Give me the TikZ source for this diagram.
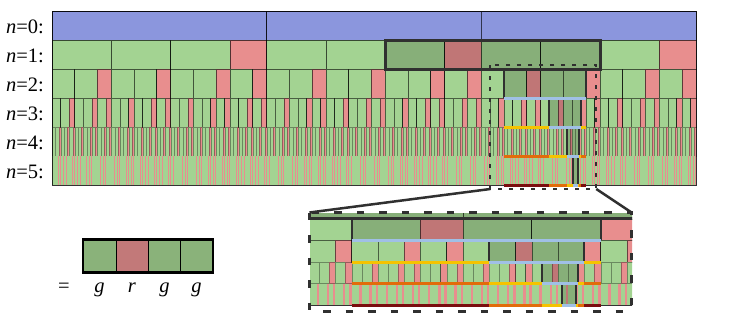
\documentclass[tikz,border=0pt]{standalone}
\usepackage{fontspec}
\setmainfont{Liberation Serif}
\definecolor{cblue}{RGB}{139,150,221}
\definecolor{cgreen}{RGB}{163,211,146}
\definecolor{cred}{RGB}{232,142,142}
\definecolor{cdg}{RGB}{138,178,122}
\definecolor{cdr}{RGB}{194,121,121}
\definecolor{clb}{RGB}{160,192,230}
\definecolor{cyl}{RGB}{245,195,0}
\definecolor{cor}{RGB}{226,108,10}
\definecolor{cdred}{RGB}{122,14,14}
\definecolor{cdk}{RGB}{48,48,48}
\tikzset{
  lab/.style={font=\fontsize{20.5}{20.5}\selectfont, inner sep=0pt},
  boxedge/.style={draw=cdk, line width=2pt, line cap=butt},
  hl/.style={line width=3pt, line cap=butt},
  shade/.style={fill=black, fill opacity=0.17},
}
\newcommand\mkcell[4]{%
  \pgfmathsetmacro\cy{11+29*#4}%
  \ifcase#4 \def\blw{1.0}\def\bop{0.65}\or\def\blw{0.9}\def\bop{0.65}\or\def\blw{0.8}\def\bop{0.6}\or\def\blw{0.5}\def\bop{0.55}\or\def\blw{0.2}\def\bop{0.35}\else\def\blw{0}\def\bop{0}\fi
  \ifnum#4<5
    \path[fill=#1, draw=black, draw opacity=\bop, line width=\blw pt] (#2,\cy) rectangle ++(#3,29);%
  \else
    \path[fill=#1] (#2,\cy) rectangle ++(#3,29);%
  \fi}
\newcommand\cellG[3]{%
  \mkcell{cgreen}{#1}{#2}{#3}%
  \ifnum#3<5
    \begingroup
    \pgfmathsetmacro\wa{#2*0.381966}%
    \pgfmathsetmacro\wb{#2*0.236068}%
    \pgfmathsetmacro\xa{#1+\wa}%
    \pgfmathsetmacro\xb{#1+2*\wa}%
    \pgfmathtruncatemacro\nl{#3+1}%
    \edef\next{\noexpand\cellG{#1}{\wa}{\nl}\noexpand\cellG{\xa}{\wa}{\nl}\noexpand\cellR{\xb}{\wb}{\nl}}%
    \next
    \endgroup
  \fi}
\newcommand\cellR[3]{%
  \mkcell{cred}{#1}{#2}{#3}%
  \ifnum#3<5
    \begingroup
    \pgfmathsetmacro\wa{#2*0.618034}%
    \pgfmathsetmacro\wb{#2*0.381966}%
    \pgfmathsetmacro\xa{#1+\wa}%
    \pgfmathtruncatemacro\nl{#3+1}%
    \edef\next{\noexpand\cellG{#1}{\wa}{\nl}\noexpand\cellR{\xa}{\wb}{\nl}}%
    \next
    \endgroup
  \fi}
\newcommand\cellB[1]{%
  \mkcell{cblue}{#1}{214.6667}{0}%
  \begingroup
  \pgfmathsetmacro\xa{#1+59.3337}%
  \pgfmathsetmacro\xb{#1+118.6673}%
  \pgfmathsetmacro\xc{#1+178.0010}%
  \edef\next{\noexpand\cellG{#1}{59.3337}{1}\noexpand\cellG{\xa}{59.3337}{1}\noexpand\cellG{\xb}{59.3337}{1}\noexpand\cellR{\xc}{36.6698}{1}}%
  \next
  \endgroup}
\newcommand\drawall{%
  \cellB{52}\cellB{266.6667}\cellB{481.3333}%
  \path[shade] (385.334,40) rectangle (600,69);
  \path[shade] (503.997,69) rectangle (585.994,98);
  \path[shade] (549.323,98) rectangle (580.644,127);
  \path[shade] (566.637,127) rectangle (578.600,156);
  \path[shade] (573.250,156) rectangle (577.820,185);
  \draw[black, draw opacity=0.8, line width=0.8pt] (52,11) rectangle (696,185);
  \draw[boxedge] (503.997,69) -- (503.997,98) (585.994,69) -- (585.994,98);
  \draw[boxedge] (549.323,98) -- (549.323,127) (580.644,98) -- (580.644,127);
  \draw[boxedge] (566.637,127) -- (566.637,156) (578.600,127) -- (578.600,156);
  \draw[boxedge] (573.250,156) -- (573.250,185) (577.820,156) -- (577.820,185);
  \draw[draw=cdk, line width=3pt] (385.334,40) rectangle (600,69);
  \draw[hl, clb] (503.997,98) -- (585.994,98);
  \draw[hl, cyl] (503.997,127) -- (585.994,127);
  \draw[hl, clb] (549.323,127) -- (580.644,127);
  \draw[hl, cor] (503.997,156) -- (585.994,156);
  \draw[hl, cyl] (549.323,156) -- (580.644,156);
  \draw[hl, clb] (566.637,156) -- (578.600,156);
  \draw[hl, cdred] (503.997,185) -- (585.994,185);
  \draw[hl, cor] (549.323,185) -- (580.644,185);
  \draw[hl, cyl] (566.637,185) -- (578.600,185);
  \draw[hl, clb] (573.250,185) -- (577.820,185);
}
\begin{document}
\begin{tikzpicture}[x=1pt,y=-1pt]
\useasboundingbox[fill=white] (0,0) rectangle (747,332);
% main grid
\drawall
% row labels
\foreach \k in {0,...,5} {
  \node[lab, anchor=base east] (l\k) at (44,{33.3+29*\k}) {\textit{n}=\k:};
}
% dashed selection in main grid
\coordinate (dtl) at (490.3,65);
\coordinate (dbr) at (596.3,189);
\coordinate (dbl) at (490.3,189);
\draw[draw=cdk, line width=1.8pt, dash pattern=on 4pt off 7pt] (dtl) rectangle (dbr);
% inset
\begin{scope}
  \clip (310,213) rectangle (632,308);
  \fill[cgreen] (310,213) rectangle (632,217);
  \begin{scope}[shift={(-1179.04,167.77)}, xscale=3.037, yscale=0.742]
    \drawall
  \end{scope}
\end{scope}
\coordinate (itl) at (309.5,212.5);
\coordinate (itr) at (631.5,212.5);
\coordinate (ibr) at (631.5,311.5);
\draw[draw=cdk, line width=2.7pt, dash pattern=on 7.5pt off 15pt] (itl) rectangle (ibr);
\draw[draw=cdk, line width=2.5pt] (dbl) -- (itl);
\draw[draw=cdk, line width=2.5pt] (dbr) -- (itr);
% legend
\fill[cdg] (82.7,239.5) rectangle (116,272.5);
\fill[cdr] (116,239.5) rectangle (148.3,272.5);
\fill[cdg] (148.3,239.5) rectangle (180.5,272.5);
\fill[cdg] (180.5,239.5) rectangle (212.7,272.5);
\draw[black, line width=0.8pt] (116,239.5) -- (116,272.5) (148.3,239.5) -- (148.3,272.5) (180.5,239.5) -- (180.5,272.5);
\draw[black, line width=2.2pt] (82.7,239.5) rectangle (212.7,272.5);
\node[lab, anchor=base] (eq) at (64,292) {=};
\node[lab, anchor=base] (s1) at (99.5,292) {\textit{g}};
\node[lab, anchor=base] (s2) at (132,292) {\textit{r}};
\node[lab, anchor=base] (s3) at (164.4,292) {\textit{g}};
\node[lab, anchor=base] (s4) at (196.6,292) {\textit{g}};
\end{tikzpicture}
\end{document}
